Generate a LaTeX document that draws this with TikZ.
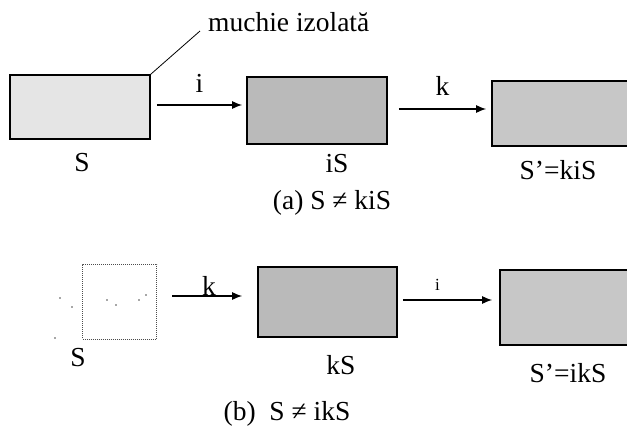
\documentclass[tikz,border=0pt]{standalone}
\usepackage{fontspec}
\setmainfont{Liberation Serif}
\usetikzlibrary{arrows.meta}
\begin{document}
\begin{tikzpicture}[x=1pt,y=-1pt,
  font=\fontsize{27.5}{32}\selectfont,
  state/.style={draw=black,line width=1.6pt,inner sep=0pt,rectangle},
  light/.style={state,fill=black!10},
  mid/.style={state,fill=black!22},
  dark/.style={state,fill=black!27},
  ghost/.style={draw=black!70,densely dotted,line width=1pt,inner sep=0pt,rectangle},
  arr/.style={line width=1.4pt,-{Latex[length=10pt,width=8pt]}},
  lbl/.style={inner sep=0pt,anchor=center}]
\useasboundingbox (0,0) rectangle (627,426);

% (a) first i, then k
\node[light,minimum width=140pt,minimum height=64pt] (s1) at (80,107) {};
\node[dark,minimum width=140pt,minimum height=67pt] (is) at (317,110.5) {};
\node[mid,minimum width=138pt,minimum height=65pt] (kis) at (561,113.5) {};

\node[lbl] (s1l) at (82,163) {S};
\node[lbl] (isl) at (337,164) {iS};
\node[lbl] (kisl) at (558,170) {S’=kiS};
\node[lbl] (capa) at (332,203) {(a) S ≠ kiS};

\node[anchor=base west,inner sep=0pt] (edge) at (208,31) {muchie izolată};
\coordinate (edgetip) at (200,31);
\draw[line width=0.8pt] (s1.north east) -- (edgetip);

\draw[arr] ([xshift=6pt,yshift=2pt]s1.east) -- node[lbl,yshift=22pt] (ia) {i} ([xshift=-4pt,yshift=5.5pt]is.west);
\draw[arr] ([xshift=11pt,yshift=1.5pt]is.east) -- node[lbl,yshift=23pt] (ka) {k} ([xshift=-5pt,yshift=4.5pt]kis.west);

% (b) first k, then i
\node[ghost,minimum width=74pt,minimum height=75pt] (s2) at (119.5,301.5) {};
\fill[black!70] (60,298) circle (0.9pt) (72,307) circle (0.9pt) (55,338) circle (0.9pt)
  (107,300) circle (0.9pt) (116,305) circle (0.9pt) (139,300) circle (0.9pt) (146,295) circle (0.9pt);
\node[dark,minimum width=139pt,minimum height=70pt] (ks) at (327.5,302) {};
\node[mid,minimum width=134pt,minimum height=75pt] (iks) at (567,307.5) {};

\node[lbl] (s2l) at (78,358) {S};
\node[lbl] (ksl) at (341,365) {kS};
\node[lbl] (iksl) at (568,373) {S’=ikS};
\node[lbl] (capb) at (287,414) {(b)\ \ S ≠ ikS};

\draw[arr] ([xshift=15pt,yshift=5.5pt]s2.east) -- node[lbl,yshift=10pt,xshift=2pt] (kb) {k} ([xshift=-15pt,yshift=6pt]ks.west);
\draw[arr] ([xshift=5pt,yshift=2pt]ks.east) -- node[lbl,yshift=15pt,xshift=-10pt,font=\fontsize{17}{20}\selectfont] (ib) {i} ([xshift=-7pt,yshift=7.5pt]iks.west);
\end{tikzpicture}
\end{document}
